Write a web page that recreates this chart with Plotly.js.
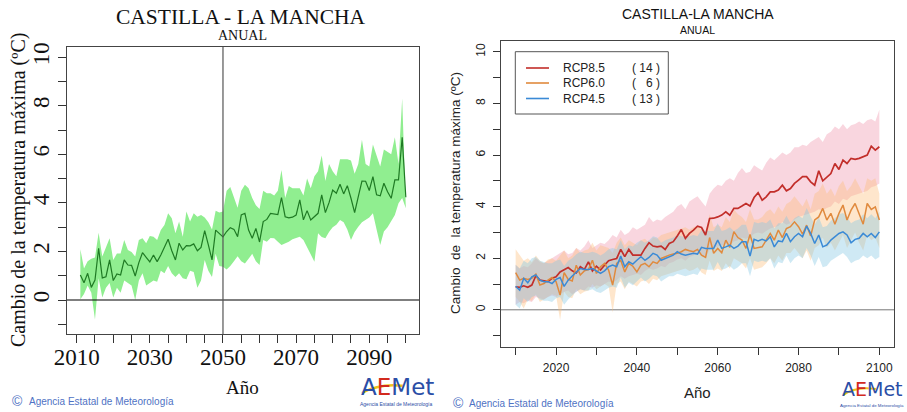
<!DOCTYPE html>
<html>
<head>
<meta charset="utf-8">
<script src="https://cdn.plot.ly/plotly-3.0.1.min.js"></script>
<style>
  html, body { margin: 0; padding: 0; background: #fff; }
  #chart { width: 907px; height: 412px; }
</style>
</head>
<body>
<div id="chart"></div>
<script>
// ---- Left panel: ensemble change in annual maximum temperature (2011-2100) ----
const startYearLeft = 2011;
const meanLeft = [
  1.03, 0.71, 1.10, 0.52, 0.82, 2.13, 0.91, 0.96, 1.65, 0.80,
  1.07, 1.03, 1.65, 1.44, 1.43, 0.99, 1.54, 1.95, 1.76, 1.57,
  1.85, 1.58, 1.85, 2.17, 2.50, 2.03, 1.65, 2.34, 2.06, 2.24,
  2.23, 2.31, 2.03, 2.17, 2.86, 2.27, 1.65, 2.88, 2.75, 2.60,
  2.82, 2.98, 2.91, 2.61, 3.50, 3.57, 2.88, 2.54, 2.95, 2.39,
  3.23, 3.32, 3.57, 3.54, 3.52, 4.22, 3.43, 3.38, 3.41, 3.50,
  4.12, 3.30, 3.68, 3.30, 3.43, 3.57, 4.33, 3.60, 4.01, 4.53,
  4.40, 4.77, 4.37, 4.71, 4.19, 3.60, 4.26, 4.90, 4.89, 4.51,
  5.08, 4.33, 4.29, 4.81, 4.46, 4.19, 4.95, 4.95, 6.70, 4.23
];
const upperLeft = [
  2.09, 1.30, 1.60, 1.70, 1.75, 2.77, 1.79, 2.20, 2.54, 1.65,
  1.92, 1.92, 2.47, 2.06, 1.98, 1.79, 2.47, 2.54, 2.34, 2.64,
  2.61, 2.47, 2.88, 3.09, 3.57, 3.37, 2.75, 3.23, 2.61, 3.64,
  3.23, 3.57, 3.43, 3.50, 3.40, 3.20, 2.90, 3.68, 3.60, 3.64,
  4.50, 4.65, 4.20, 3.80, 4.50, 4.75, 4.60, 4.20, 3.90, 3.75,
  4.50, 4.40, 4.40, 4.30, 4.50, 5.35, 4.20, 4.70, 4.60, 4.60,
  4.60, 4.30, 5.00, 4.60, 5.10, 5.30, 5.95, 4.90, 5.60, 5.30,
  5.10, 5.80, 5.80, 5.80, 5.75, 5.20, 5.60, 6.60, 5.60, 5.50,
  6.40, 5.90, 5.50, 6.20, 6.10, 6.00, 6.70, 5.60, 8.30, 4.40
];
const lowerLeft = [
  0.03, 0.25, 0.60, 0.30, -0.80, 0.90, 0.10, 0.50, 0.70, 0.10,
  0.50, 0.30, 0.80, 0.70, 0.60, 0.00, 0.80, 1.10, 0.60, 0.70,
  0.80, 0.75, 1.20, 1.10, 1.40, 1.10, 0.95, 1.10, 0.90, 0.85,
  1.20, 1.15, 0.50, 0.80, 1.65, 1.20, 0.95, 1.90, 1.40, 1.37,
  1.26, 1.40, 1.60, 1.80, 1.60, 1.50, 1.70, 1.90, 1.60, 1.44,
  2.47, 2.40, 2.55, 2.54, 2.40, 2.27, 2.34, 2.40, 2.50, 2.55,
  2.61, 2.47, 2.20, 1.90, 1.58, 2.75, 2.60, 2.54, 2.80, 3.00,
  3.10, 3.30, 3.20, 2.90, 2.47, 2.80, 3.02, 3.20, 3.30, 3.40,
  3.57, 2.90, 2.27, 2.82, 3.00, 3.23, 3.50, 3.98, 4.20, 3.78
];

// ---- Right panel: scenario ensembles (2010-2100) ----
const startYearRight = 2010;
const rcp85Mean = [
  0.89, 0.87, 0.93, 0.87, 0.96, 1.32, 1.15, 1.11, 1.09, 1.22,
  1.28, 1.47, 1.56, 1.64, 1.51, 1.43, 1.67, 1.56, 1.86, 1.51,
  1.69, 1.54, 1.73, 1.90, 1.95, 1.99, 2.34, 2.06, 2.34, 2.12,
  2.12, 2.12, 2.38, 2.60, 2.47, 2.44, 2.47, 2.34, 2.57, 2.64,
  2.86, 3.11, 2.77, 2.96, 3.09, 3.24, 3.19, 2.90, 3.54, 3.55,
  3.60, 3.67, 3.80, 3.67, 3.93, 3.93, 4.02, 4.12, 4.02, 4.35,
  4.54, 4.25, 4.38, 4.57, 4.57, 4.64, 4.83, 4.61, 4.70, 4.90,
  5.03, 5.16, 5.16, 4.96, 4.83, 5.39, 5.00, 5.16, 5.28, 5.67,
  5.44, 5.80, 5.67, 5.87, 5.83, 5.87, 5.93, 6.00, 6.34, 6.19,
  6.32
];
const rcp85Upper = [
  1.75, 1.60, 1.70, 1.65, 1.80, 2.00, 1.85, 1.80, 1.90, 2.00,
  2.10, 2.20, 2.30, 2.15, 2.20, 2.40, 2.30, 2.45, 2.70, 2.40,
  2.50, 2.60, 2.55, 2.70, 2.90, 2.80, 3.10, 2.90, 3.00, 3.20,
  3.10, 3.20, 3.30, 3.60, 3.40, 3.50, 3.45, 3.60, 3.70, 3.80,
  4.00, 4.10, 3.90, 4.20, 4.30, 4.40, 4.20, 4.00, 4.50, 4.70,
  4.85, 4.80, 5.00, 5.10, 5.00, 5.30, 5.50, 5.30, 5.35, 5.60,
  5.50, 5.40, 5.70, 5.90, 5.80, 5.95, 6.10, 6.00, 6.10, 6.30,
  6.30, 6.40, 6.35, 6.50, 6.60, 6.70, 6.50, 6.80, 6.90, 7.10,
  7.00, 7.20, 7.00, 7.15, 7.20, 7.30, 7.20, 7.35, 7.40, 7.30,
  7.75
];
const rcp85Lower = [
  0.20, 0.30, 0.25, 0.35, 0.30, 0.50, 0.45, 0.40, 0.50, 0.55,
  0.50, 0.60, 0.70, 0.75, 0.60, 0.70, 0.80, 0.75, 0.90, 0.85,
  0.95, 0.90, 1.00, 1.10, 1.05, 1.15, 1.30, 1.20, 1.30, 1.35,
  1.40, 1.35, 1.50, 1.60, 1.55, 1.60, 1.70, 1.65, 1.80, 1.85,
  1.95, 2.00, 1.90, 2.05, 2.10, 2.20, 2.10, 2.00, 2.35, 2.40,
  2.45, 2.50, 2.55, 2.50, 2.65, 2.70, 2.80, 2.75, 2.80, 2.95,
  3.00, 2.95, 3.05, 3.15, 3.20, 3.25, 3.40, 3.30, 3.35, 3.50,
  3.60, 3.65, 3.70, 3.75, 3.80, 3.90, 3.85, 3.95, 4.00, 4.20,
  4.10, 4.30, 4.25, 4.40, 4.45, 4.50, 4.55, 4.60, 4.75, 4.80,
  4.90
];
const rcp60Mean = [
  1.44, 1.15, 1.22, 1.18, 1.22, 1.38, 0.96, 1.02, 1.15, 1.25,
  1.09, 0.57, 1.44, 1.18, 1.12, 1.73, 1.35, 1.51, 1.56, 1.92,
  1.41, 1.67, 1.80, 1.54, 0.96, 1.80, 1.92, 1.47, 1.80, 1.69,
  1.47, 1.73, 1.80, 1.67, 1.86, 1.80, 1.99, 2.06, 2.12, 2.16,
  2.19, 2.25, 2.34, 2.29, 2.25, 2.34, 2.12, 2.03, 2.80, 2.19,
  2.38, 2.21, 2.70, 2.42, 3.03, 2.80, 2.70, 2.38, 2.92, 2.38,
  2.42, 2.44, 2.70, 2.96, 2.70, 3.09, 2.80, 3.15, 3.22, 3.41,
  3.22, 2.93, 3.28, 2.86, 3.48, 3.60, 3.93, 3.48, 3.74, 3.32,
  3.74, 4.06, 3.48, 3.86, 4.12, 3.74, 3.32, 4.12, 3.89, 3.99,
  3.48
];
const rcp60Upper = [
  2.35, 2.10, 1.90, 2.00, 1.85, 2.10, 1.90, 1.80, 1.95, 2.00,
  1.90, 2.10, 2.30, 2.00, 2.10, 2.40, 2.20, 2.30, 2.35, 2.60,
  2.30, 2.50, 2.45, 2.40, 2.20, 2.60, 2.80, 2.50, 2.70, 2.60,
  2.50, 2.70, 2.75, 2.60, 2.80, 2.75, 2.90, 2.95, 3.00, 3.05,
  3.10, 3.15, 3.20, 3.10, 3.20, 3.25, 3.10, 3.00, 3.70, 3.20,
  3.30, 3.20, 3.60, 3.40, 3.90, 3.70, 3.60, 3.40, 3.90, 3.50,
  3.50, 3.60, 3.80, 3.90, 3.70, 4.00, 3.80, 4.10, 4.20, 4.40,
  4.20, 4.00, 4.30, 3.90, 4.50, 4.60, 4.90, 4.50, 4.70, 4.40,
  4.80, 5.00, 4.60, 4.80, 5.10, 4.80, 4.50, 5.10, 5.00, 5.10,
  4.50
];
const rcp60Lower = [
  0.50, 0.30, 0.05, 0.40, 0.35, 0.60, 0.30, 0.40, 0.50, 0.60,
  0.55, -0.40, 0.70, 0.50, 0.45, 0.80, 0.60, 0.70, 0.75, 1.00,
  0.80, 0.90, 1.00, 0.90, -0.10, 1.00, 1.10, 0.80, 1.10, 1.00,
  0.90, 1.10, 1.15, 1.00, 1.20, 1.15, 1.30, 1.35, 1.40, 1.45,
  1.50, 1.55, 1.60, 1.50, 1.55, 1.65, 1.45, 1.35, 1.90, 1.50,
  1.60, 1.50, 1.80, 1.60, 2.00, 1.90, 1.80, 1.60, 2.00, 1.55,
  1.60, 1.65, 1.80, 2.00, 1.80, 2.10, 1.90, 2.20, 2.20, 2.40,
  2.20, 2.00, 2.30, 1.90, 2.40, 2.50, 2.80, 2.40, 2.60, 2.30,
  2.60, 2.90, 2.40, 2.70, 3.00, 2.60, 2.30, 2.90, 2.70, 2.80,
  2.40
];
const rcp45Mean = [
  0.91, 0.76, 1.22, 1.05, 1.28, 1.35, 1.15, 1.09, 1.09, 1.02,
  1.18, 1.25, 0.91, 1.15, 1.31, 1.47, 1.60, 1.56, 1.56, 1.60,
  1.51, 1.41, 1.51, 1.67, 1.73, 1.67, 2.08, 1.67, 1.86, 1.77,
  1.92, 2.06, 1.92, 2.03, 2.19, 2.12, 1.92, 1.99, 2.08, 2.12,
  2.25, 2.16, 2.12, 2.16, 2.19, 2.16, 2.42, 2.38, 2.38, 2.38,
  2.70, 2.38, 2.44, 2.51, 2.38, 2.47, 2.64, 2.64, 2.08, 2.73,
  2.67, 2.73, 2.67, 2.83, 2.44, 2.67, 2.64, 2.96, 2.64, 2.83,
  2.96, 2.83, 3.24, 2.96, 2.57, 2.90, 2.44, 2.51, 2.70, 2.83,
  2.96, 3.02, 2.90, 2.60, 2.73, 2.77, 2.96, 2.83, 2.96, 2.80,
  3.02
];
const rcp45Upper = [
  1.75, 1.60, 1.90, 1.80, 2.00, 2.05, 1.90, 1.85, 1.80, 1.80,
  1.90, 1.95, 1.70, 1.90, 2.00, 2.15, 2.25, 2.20, 2.20, 2.25,
  2.20, 2.10, 2.20, 2.35, 2.40, 2.35, 2.70, 2.35, 2.50, 2.45,
  2.60, 2.70, 2.60, 2.70, 2.85, 2.80, 2.60, 2.70, 2.75, 2.80,
  2.90, 2.85, 2.80, 2.85, 2.90, 2.85, 3.10, 3.05, 3.05, 3.05,
  3.35, 3.05, 3.10, 3.20, 3.05, 3.15, 3.30, 3.30, 2.80, 3.40,
  3.35, 3.40, 3.35, 3.50, 3.15, 3.35, 3.35, 3.65, 3.35, 3.55,
  3.65, 3.55, 3.95, 3.65, 3.30, 3.60, 3.20, 3.25, 3.45, 3.55,
  3.70, 3.75, 3.60, 3.35, 3.45, 3.50, 3.70, 3.55, 3.70, 3.55,
  3.80
];
const rcp45Lower = [
  0.20, 0.05, 0.45, 0.30, 0.50, 0.55, 0.40, 0.35, 0.35, 0.30,
  0.45, 0.50, 0.20, 0.40, 0.55, 0.70, 0.80, 0.75, 0.75, 0.80,
  0.70, 0.65, 0.75, 0.85, 0.90, 0.85, 1.25, 0.85, 1.05, 0.95,
  1.10, 1.25, 1.10, 1.20, 1.35, 1.30, 1.10, 1.20, 1.30, 1.30,
  1.40, 1.35, 1.30, 1.35, 1.40, 1.35, 1.60, 1.55, 1.55, 1.55,
  1.85, 1.55, 1.60, 1.70, 1.55, 1.65, 1.80, 1.80, 1.30, 1.90,
  1.85, 1.90, 1.85, 2.00, 1.60, 1.85, 1.80, 2.10, 1.80, 2.00,
  2.10, 2.00, 2.40, 2.10, 1.70, 2.05, 1.65, 1.70, 1.90, 2.00,
  2.10, 2.20, 2.05, 1.80, 1.90, 1.95, 2.10, 2.00, 2.10, 1.95,
  2.05
];

const scenarioNames = ['RCP8.5', 'RCP6.0', 'RCP4.5'];
const scenarioCounts = ['( 14 )', '(   6 )', '( 13 )'];

// Axis ticks
const leftXTicks = [2010, 2015, 2020, 2025, 2030, 2035, 2040, 2045, 2050, 2055, 2060,
                    2065, 2070, 2075, 2080, 2085, 2090, 2095, 2100];
const leftXLabels = ['2010', '', '', '', '2030', '', '', '', '2050', '', '',
                     '', '2070', '', '', '', '2090', '', ''];
const rightXTicks = [2010, 2020, 2030, 2040, 2050, 2060, 2070, 2080, 2090, 2100];
const rightXLabels = ['', '2020', '', '2040', '', '2060', '', '2080', '', '2100'];
const yTicks = [-1, 0, 1, 2, 3, 4, 5, 6, 7, 8, 9, 10];
const yLabels = ['', '0', '', '2', '', '4', '', '6', '', '8', '', '10'];

const yearsFrom = (start, n) => Array.from({ length: n }, (_, i) => start + i);
const yearsLeft = yearsFrom(startYearLeft, meanLeft.length);
const yearsRight = yearsFrom(startYearRight, rcp85Mean.length);

// polygon between two curves
function band(x, lo, hi, color, xa, ya) {
  return {
    x: x.concat(x.slice().reverse()),
    y: hi.concat(lo.slice().reverse()),
    xaxis: xa, yaxis: ya,
    type: 'scatter', mode: 'lines', fill: 'toself',
    fillcolor: color, line: { width: 0 }, hoverinfo: 'skip'
  };
}
function line(x, y, color, width, xa, ya) {
  return { x, y, xaxis: xa, yaxis: ya, type: 'scatter', mode: 'lines',
           line: { color, width }, hoverinfo: 'skip' };
}

const colRed = '#c22e2a', colOrange = '#e08a3e', colBlue = '#3a8ad6';

const traces = [
  band(yearsLeft, lowerLeft, upperLeft, '#90ee90', 'x', 'y'),
  line(yearsLeft, meanLeft, '#1f7a24', 1.2, 'x', 'y'),

  band(yearsRight, rcp85Lower, rcp85Upper, 'rgba(238,140,165,0.36)', 'x2', 'y2'),
  band(yearsRight, rcp60Lower, rcp60Upper, 'rgba(252,190,120,0.38)', 'x2', 'y2'),
  band(yearsRight, rcp45Lower, rcp45Upper, 'rgba(135,200,228,0.40)', 'x2', 'y2'),
  line(yearsRight, rcp85Mean, colRed, 1.7, 'x2', 'y2'),
  line(yearsRight, rcp60Mean, colOrange, 1.5, 'x2', 'y2'),
  line(yearsRight, rcp45Mean, colBlue, 1.5, 'x2', 'y2')
];

const W = 907, H = 412;
const px = v => v / W;
const py = v => 1 - v / H;

const serif = 'Liberation Serif, Times New Roman, serif';
const sans = 'Liberation Sans, Arial, sans-serif';

const axisCommon = {
  showgrid: false, zeroline: false, showline: true, mirror: true,
  ticks: 'outside', tickmode: 'array', fixedrange: true
};

const layout = {
  width: W, height: H,
  margin: { l: 0, r: 0, t: 0, b: 0 },
  paper_bgcolor: '#fff', plot_bgcolor: '#fff',
  showlegend: false,
  xaxis: Object.assign({}, axisCommon, {
    domain: [px(67), px(419)], range: [2007.35, 2103.6], anchor: 'y',
    tickvals: leftXTicks, ticktext: leftXLabels, ticklen: 8, tickcolor: '#333',
    linecolor: '#444', linewidth: 1, ticklabelstandoff: -6,
    tickfont: { family: serif, size: 23, color: '#111' }
  }),
  yaxis: Object.assign({}, axisCommon, {
    domain: [1 - 334 / H, 1 - 47 / H], range: [-1.40, 10.42], anchor: 'x',
    tickvals: yTicks, ticktext: yLabels, ticklen: 8, tickcolor: '#333',
    tickangle: -90, linecolor: '#444', linewidth: 1,
    tickfont: { family: serif, size: 23, color: '#111' }
  }),
  xaxis2: Object.assign({}, axisCommon, {
    domain: [px(500.7), px(894.3)], range: [2006.3, 2103.7], anchor: 'y2',
    tickvals: rightXTicks, ticktext: rightXLabels, ticklen: 7, tickcolor: '#333',
    linecolor: '#444', linewidth: 1, ticklabelstandoff: 3,
    tickfont: { family: sans, size: 12, color: '#222' }
  }),
  yaxis2: Object.assign({}, axisCommon, {
    domain: [1 - 346.7 / H, 1 - 40.7 / H], range: [-1.43, 10.43], anchor: 'x2',
    tickvals: yTicks, ticktext: yLabels, ticklen: 7, tickcolor: '#333',
    tickangle: -90, linecolor: '#444', linewidth: 1, ticklabelstandoff: 3,
    tickfont: { family: sans, size: 12, color: '#222' }
  }),
  shapes: [
    // reference lines
    { type: 'line', xref: 'x domain', yref: 'y', x0: 0, x1: 1, y0: 0, y1: 0,
      line: { color: '#000', width: 1.2 }, layer: 'above' },
    { type: 'line', xref: 'x', yref: 'y domain', x0: 2050, x1: 2050, y0: 0, y1: 1,
      line: { color: '#555', width: 1.2 }, layer: 'above' },
    { type: 'line', xref: 'x2 domain', yref: 'y2', x0: 0, x1: 1, y0: 0, y1: 0,
      line: { color: '#777', width: 1 }, layer: 'below' },
    // legend frame
    { type: 'rect', xref: 'paper', yref: 'paper', x0: px(515.3), x1: px(668.3),
      y0: py(114), y1: py(51.7), line: { color: '#555', width: 1 }, fillcolor: '#fff' },
    { type: 'line', xref: 'paper', yref: 'paper', x0: px(526), x1: px(549), y0: py(68), y1: py(68),
      line: { color: colRed, width: 1.6 } },
    { type: 'line', xref: 'paper', yref: 'paper', x0: px(526), x1: px(549), y0: py(83), y1: py(83),
      line: { color: colOrange, width: 1.6 } },
    { type: 'line', xref: 'paper', yref: 'paper', x0: px(526), x1: px(549), y0: py(98.5), y1: py(98.5),
      line: { color: colBlue, width: 1.6 } },
    // logo swooshes
    { type: 'path', xref: 'paper', yref: 'paper',
      path: `M ${px(362)} ${py(393)} Q ${px(380)} ${py(383)} ${px(404)} ${py(386)}`,
      line: { color: '#f2c21b', width: 2.5 } },
    { type: 'path', xref: 'paper', yref: 'paper',
      path: `M ${px(843)} ${py(395)} Q ${px(856)} ${py(386)} ${px(876)} ${py(389)}`,
      line: { color: '#f2c21b', width: 2.2 } }
  ],
  annotations: []
};

function note(text, x, y, font, extra) {
  layout.annotations.push(Object.assign({
    text, x: px(x), y: py(y), xref: 'paper', yref: 'paper',
    xanchor: 'center', yanchor: 'middle', showarrow: false, font
  }, extra || {}));
}

// left panel texts
note('CASTILLA - LA MANCHA', 241, 16.5, { family: serif, size: 21.5, color: '#111' });
note('ANUAL', 242, 35.5, { family: serif, size: 14, color: '#111' });
note('Cambio de la temperatura máxima (ºC)', 18, 190, { family: serif, size: 20, color: '#111' }, { textangle: -90 });
note('Año', 242, 387, { family: serif, size: 19, color: '#111' });

// right panel texts
note('CASTILLA-LA MANCHA', 698, 14, { family: sans, size: 14, color: '#111' });
note('ANUAL', 697, 30, { family: sans, size: 10.5, color: '#111' });
note('Cambio  de  la temperatura máxima (ºC)', 455, 193, { family: sans, size: 13.5, color: '#222' }, { textangle: -90 });
note('Año', 697, 392, { family: sans, size: 15, color: '#222' });

// legend entries
const legendRows = [68, 83, 98.5];
scenarioNames.forEach((name, i) => {
  note(name, 561, legendRows[i], { family: sans, size: 12, color: '#222' }, { xanchor: 'left' });
  note(scenarioCounts[i], 662, legendRows[i], { family: sans, size: 12, color: '#222' }, { xanchor: 'right' });
});

// credits
const creditColor = '#4f72c4';
note('©', 17, 401, { family: sans, size: 14, color: creditColor });
note('Agencia Estatal de Meteorología', 27, 401, { family: sans, size: 10, color: creditColor }, { xanchor: 'left' });
note('©', 458, 403, { family: sans, size: 14, color: creditColor });
note('Agencia Estatal de Meteorología', 467, 403, { family: sans, size: 10, color: creditColor }, { xanchor: 'left' });

// logos
const logoText = '<span style="color:#2b4ea6">A</span><span style="color:#d22a1e">E</span><span style="color:#2b4ea6">Met</span>';
note(logoText, 397, 387, { family: 'DejaVu Sans, sans-serif', size: 23, color: '#2b4ea6' });
note('Agencia Estatal de Meteorología', 396, 404, { family: sans, size: 5, color: '#2b4ea6' });
note(logoText, 872, 389, { family: 'DejaVu Sans, sans-serif', size: 19, color: '#2b4ea6' });
note('Agencia Estatal de Meteorología', 872, 405, { family: sans, size: 4.4, color: '#2b4ea6' });

Plotly.newPlot('chart', traces, layout, { staticPlot: true, displayModeBar: false });
</script>
</body>
</html>
